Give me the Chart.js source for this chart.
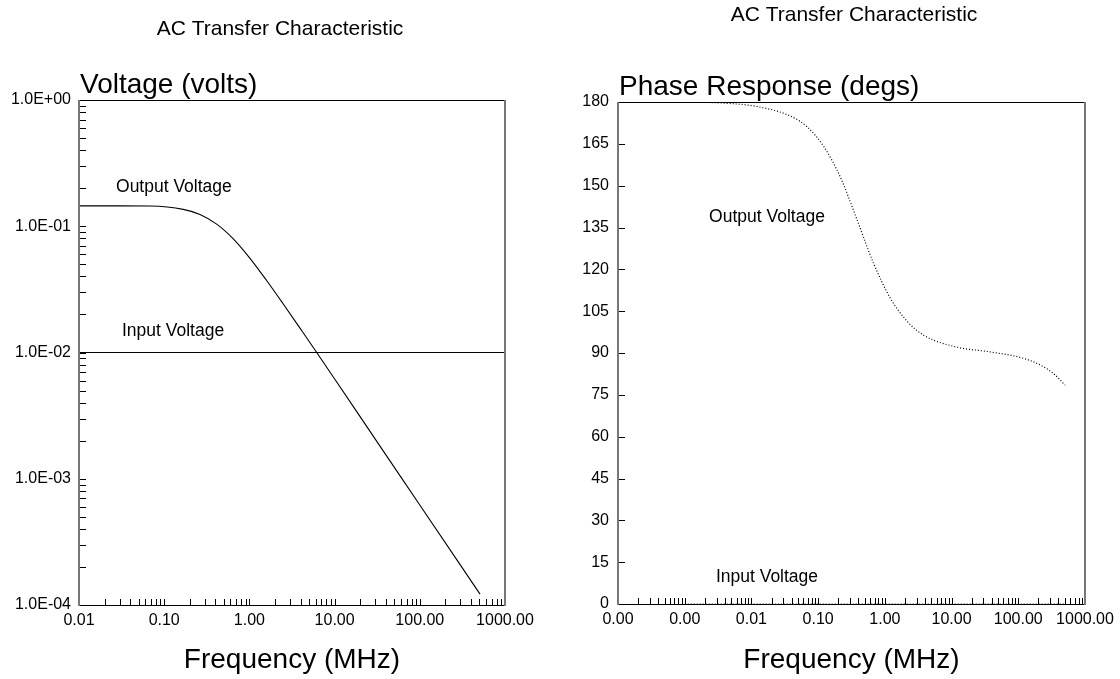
<!DOCTYPE html>
<html>
<head>
<meta charset="utf-8">
<script src="https://cdn.jsdelivr.net/npm/chart.js@4.4.0/dist/chart.umd.min.js"></script>
<style>
  html, body { margin: 0; padding: 0; background: #fff; }
  #wrap { position: relative; width: 1120px; height: 679px; }
  .cell { position: absolute; top: 0; width: 560px; height: 679px; }
</style>
</head>
<body>
<div id="wrap">
  <div class="cell" style="left:0"><canvas id="voltChart" width="560" height="679"></canvas></div>
  <div class="cell" style="left:560px"><canvas id="phaseChart" width="560" height="679"></canvas></div>
</div>
<script>
// ---- Voltage plot (log / log) ----
const outFreq = [0.01, 0.03, 0.068, 0.167, 0.263, 0.413, 0.647, 1.0, 1.6, 2.5, 4.0, 6.17, 9.66, 30, 100, 509];
const outVolt = [0.145, 0.145, 0.1445, 0.136, 0.124, 0.104, 0.0795, 0.0565, 0.037, 0.0242, 0.0153, 0.01, 0.0064, 0.00206, 0.00062, 0.000122];
const inFreq = [0.01, 1000];
const inVolt = [0.01, 0.01];
const voltXTicks = [0.01, 0.1, 1, 10, 100, 1000];
const voltXLabels = ['0.01', '0.10', '1.00', '10.00', '100.00', '1000.00'];
const voltYTicks = [1e-4, 1e-3, 1e-2, 1e-1, 1];
const voltYLabels = ['1.0E-04', '1.0E-03', '1.0E-02', '1.0E-01', '1.0E+00'];

// ---- Phase plot (log / linear) ----
const phaseFreq = [0.001, 0.0038, 0.012, 0.038, 0.0675, 0.12, 0.213, 0.38, 0.673, 1.2, 2.13, 3.8, 12, 37.8, 119, 238, 350, 500];
const phaseDeg = [180, 179.6, 178.4, 175, 171.2, 164.2, 153.3, 138, 122.3, 109.8, 101.5, 96.4, 92.1, 90.4, 88.1, 85.1, 82.3, 78.5];
const phaseInFreq = [0.001, 500];
const phaseInDeg = [0, 0];
const phaseXTicks = [0.0001, 0.001, 0.01, 0.1, 1, 10, 100, 1000];
const phaseXLabels = ['0.00', '0.00', '0.01', '0.10', '1.00', '10.00', '100.00', '1000.00'];
const phaseYTicks = [0, 15, 30, 45, 60, 75, 90, 105, 120, 135, 150, 165, 180];
const phaseYLabels = ['0', '15', '30', '45', '60', '75', '90', '105', '120', '135', '150', '165', '180'];

const FONT = '"Liberation Sans", Arial, sans-serif';

function pts(xs, ys) {
  return xs.map((x, i) => ({ x, y: ys[i] }));
}

// 1..9 x 10^n tick values between min and max
function logMinor(min, max) {
  const out = [];
  for (let d = Math.floor(Math.log10(min)); d <= Math.ceil(Math.log10(max)); d++) {
    for (let k = 1; k <= 9; k++) {
      const v = k * Math.pow(10, d);
      if (v >= min * 0.999 && v <= max * 1.001) out.push(v);
    }
  }
  return out;
}

// frame, inward ticks and the loose texts
const decor = {
  id: 'decor',
  afterDatasetsDraw(chart, args, opts) {
    const { ctx, chartArea: a, scales: { x, y } } = chart;
    ctx.save();

    ctx.strokeStyle = '#000';
    ctx.lineWidth = 1;
    ctx.beginPath();
    opts.xMinor.forEach(v => {
      const px = Math.round(x.getPixelForValue(v)) + 0.5;
      ctx.moveTo(px, a.bottom);
      ctx.lineTo(px, a.bottom - 6);
    });
    opts.yMinor.forEach(v => {
      const py = Math.round(y.getPixelForValue(v)) + 0.5;
      ctx.moveTo(a.left, py);
      ctx.lineTo(a.left + 7, py);
    });
    ctx.stroke();

    // top + bottom black
    ctx.beginPath();
    ctx.moveTo(a.left, a.top + 0.5);
    ctx.lineTo(a.right, a.top + 0.5);
    ctx.moveTo(a.left, a.bottom + 0.5);
    ctx.lineTo(a.right, a.bottom + 0.5);
    ctx.stroke();
    // left + right grey
    ctx.strokeStyle = '#777';
    ctx.lineWidth = 2;
    ctx.beginPath();
    ctx.moveTo(a.left, a.top);
    ctx.lineTo(a.left, a.bottom + 1);
    ctx.moveTo(a.right, a.top);
    ctx.lineTo(a.right, a.bottom + 1);
    ctx.stroke();

    ctx.fillStyle = '#000';
    ctx.textBaseline = 'middle';
    ctx.textAlign = 'center';
    ctx.font = '21px ' + FONT;
    ctx.fillText(opts.title, opts.titleX, opts.titleY);

    ctx.textAlign = 'left';
    ctx.font = '28px ' + FONT;
    ctx.fillText(opts.yTitle, a.left + 1, a.top - 15);

    ctx.textAlign = 'center';
    ctx.font = '17.5px ' + FONT;
    opts.labels.forEach(l => {
      ctx.fillText(l.text, x.getPixelForValue(l.x), y.getPixelForValue(l.y));
    });
    ctx.restore();
  }
};

function makeChart(el, cfg) {
  return new Chart(document.getElementById(el), {
    type: 'line',
    data: { datasets: cfg.datasets },
    plugins: [decor],
    options: {
      responsive: false,
      animation: false,
      layout: { padding: cfg.padding },
      plugins: {
        legend: { display: false },
        tooltip: { enabled: false },
        decor: cfg.decor
      },
      elements: { point: { radius: 0 } },
      scales: {
        x: {
          type: 'logarithmic',
          min: cfg.xTicks[0],
          max: cfg.xTicks[cfg.xTicks.length - 1],
          afterBuildTicks: s => { s.ticks = cfg.xTicks.map(v => ({ value: v })); },
          afterFit: s => { s.height = cfg.xHeight; },
          grid: { display: false, drawTicks: false },
          border: { display: false },
          ticks: {
            autoSkip: false,
            maxRotation: 0,
            padding: 6,
            color: '#000',
            font: { family: FONT, size: 16 },
            callback: (v, i) => cfg.xLabels[i]
          },
          title: {
            display: true,
            text: 'Frequency (MHz)',
            color: '#000',
            font: { family: FONT, size: 28 },
            padding: { top: 0, bottom: 2 }
          }
        },
        y: {
          type: cfg.yType,
          min: cfg.yTicks[0],
          max: cfg.yTicks[cfg.yTicks.length - 1],
          afterBuildTicks: s => { s.ticks = cfg.yTicks.map(v => ({ value: v })); },
          afterFit: s => { s.width = cfg.yWidth; },
          grid: { display: false, drawTicks: false },
          border: { display: false },
          ticks: {
            autoSkip: false,
            padding: cfg.yPad,
            color: '#000',
            font: { family: FONT, size: 16 },
            callback: (v, i) => cfg.yLabels[i]
          }
        }
      }
    }
  });
}

makeChart('voltChart', {
  padding: { top: 100, right: 55, left: 0, bottom: 0 },
  xHeight: 74,
  yWidth: 79,
  yPad: 8,
  yType: 'logarithmic',
  xTicks: voltXTicks, xLabels: voltXLabels,
  yTicks: voltYTicks, yLabels: voltYLabels,
  datasets: [
    {
      label: 'Output Voltage',
      data: pts(outFreq, outVolt),
      borderColor: '#000',
      borderWidth: 1.1,
      cubicInterpolationMode: 'monotone'
    },
    {
      label: 'Input Voltage',
      data: pts(inFreq, inVolt),
      borderColor: '#000',
      borderWidth: 1
    }
  ],
  decor: {
    title: 'AC Transfer Characteristic', titleX: 280, titleY: 29,
    yTitle: 'Voltage (volts)',
    xMinor: logMinor(0.01, 1000),
    yMinor: logMinor(1e-4, 1),
    labels: [
      { text: 'Output Voltage', x: 0.13, y: 0.205 },
      { text: 'Input Voltage', x: 0.127, y: 0.0148 }
    ]
  }
});

makeChart('phaseChart', {
  padding: { top: 102, right: 35, left: 0, bottom: 0 },
  xHeight: 75,
  yWidth: 58,
  yPad: 9,
  yType: 'linear',
  xTicks: phaseXTicks, xLabels: phaseXLabels,
  yTicks: phaseYTicks, yLabels: phaseYLabels,
  datasets: [
    {
      label: 'Output Voltage',
      data: pts(phaseFreq, phaseDeg),
      borderColor: '#000',
      borderWidth: 1.2,
      borderDash: [1, 2],
      cubicInterpolationMode: 'monotone'
    },
    {
      label: 'Input Voltage',
      data: pts(phaseInFreq, phaseInDeg),
      borderColor: '#000',
      borderWidth: 1.2,
      borderDash: [1, 2]
    }
  ],
  decor: {
    title: 'AC Transfer Characteristic', titleX: 294, titleY: 15,
    yTitle: 'Phase Response (degs)',
    xMinor: logMinor(0.0001, 1000),
    yMinor: phaseYTicks,
    labels: [
      { text: 'Output Voltage', x: 0.0171, y: 138.8 },
      { text: 'Input Voltage', x: 0.0171, y: 9.6 }
    ]
  }
});
</script>
</body>
</html>
